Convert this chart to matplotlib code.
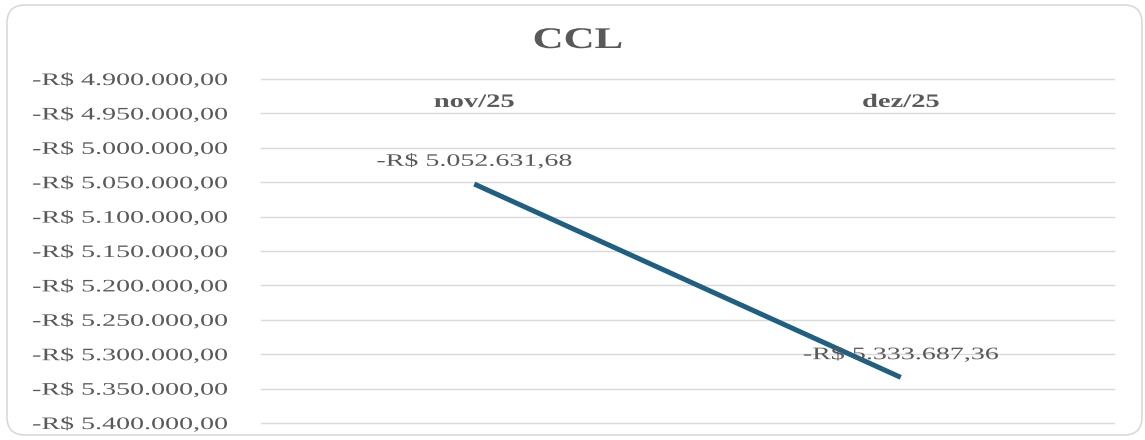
import matplotlib
matplotlib.use("Agg")
import matplotlib.pyplot as plt
import numpy as np
from matplotlib.patheffects import AbstractPathEffect
from matplotlib.transforms import Affine2D, IdentityTransform
from matplotlib.patches import FancyBboxPatch
from matplotlib.ticker import FuncFormatter, MultipleLocator

# ---- data ----
title = "CCL"
categories = ["nov/25", "dez/25"]
values = [-5052631.68, -5333687.36]
y_min = -5400000
y_max = -4900000
y_step = 50000


def brl(v):
    s = f"{abs(v):,.2f}".replace(",", "X").replace(".", ",").replace("X", ".")
    return ("-" if v < 0 else "") + "R$ " + s


class HStretch(AbstractPathEffect):
    """Stretch rendered text horizontally (reference text is wide)."""
    def __init__(self, sx, anchor="center"):
        super().__init__()
        self.sx = sx
        self.anchor = anchor

    def draw_path(self, renderer, gc, tpath, affine, rgbFace=None):
        ext = tpath.transformed(affine).get_extents()
        if self.anchor == "right":
            cx = ext.x1
        elif self.anchor == "left":
            cx = ext.x0
        else:
            cx = (ext.x0 + ext.x1) / 2
        new = affine + Affine2D().translate(-cx, 0).scale(self.sx, 1).translate(cx, 0)
        renderer.draw_path(gc, tpath, new, rgbFace)


TXT = "#595959"
GRID = "#d9d9d9"
LINE = "#1F5F82"
SERIF = ["Liberation Serif", "DejaVu Serif"]

W, H = 1145, 440
fig = plt.figure(figsize=(W / 100, H / 100), dpi=100)

# rounded border
border = FancyBboxPatch((7, 5), 1135, 430,
                        boxstyle="round,pad=0,rounding_size=18",
                        transform=IdentityTransform(), fill=False,
                        edgecolor=GRID, linewidth=1.2)
fig.patches.append(border)
border.set_figure(fig)

ax = fig.add_axes([261 / W, 17 / H, (1114 - 261) / W, (361 - 17) / H])
x = np.arange(len(categories))
ax.plot(x, values, color=LINE, lw=3.6, solid_capstyle="butt", zorder=3)

ax.set_xlim(-0.5, len(categories) - 0.5)
ax.set_ylim(y_min, y_max)
ax.yaxis.set_major_locator(MultipleLocator(y_step))
ax.yaxis.set_major_formatter(FuncFormatter(lambda v, p: brl(v)))
ax.grid(axis="y", color=GRID, lw=1.0)
for gl in ax.get_ygridlines():
    gl.set_clip_on(False)
ax.set_axisbelow(True)
for s in ax.spines.values():
    s.set_visible(False)

ax.tick_params(axis="y", length=0, pad=24, labelcolor=TXT, labelsize=12.6)
for lab in ax.get_yticklabels():
    lab.set_family(SERIF)
    lab.set_path_effects([HStretch(1.6, "right")])

ax.set_xticks(x)
ax.set_xticklabels(categories)
ax.xaxis.tick_top()
ax.tick_params(axis="x", length=0, pad=-23, labelcolor=TXT, labelsize=13.7)
for lab in ax.get_xticklabels():
    lab.set_family(SERIF)
    lab.set_fontweight("bold")
    lab.set_path_effects([HStretch(1.5, "center")])

for xi, v in zip(x, values):
    ax.annotate(brl(v), (xi, v), xytext=(0, 16), textcoords="offset points",
                ha="center", va="center", color=TXT, fontsize=12.6,
                family=SERIF, zorder=4,
                path_effects=[HStretch(1.6, "center")])

fig.text(578 / W, 1 - 48 / H, title, ha="center", va="baseline",
         color=TXT, fontsize=21.6, fontweight="bold", family=SERIF,
         path_effects=[HStretch(1.43, "center")])

fig.savefig("out.png", dpi=100)
